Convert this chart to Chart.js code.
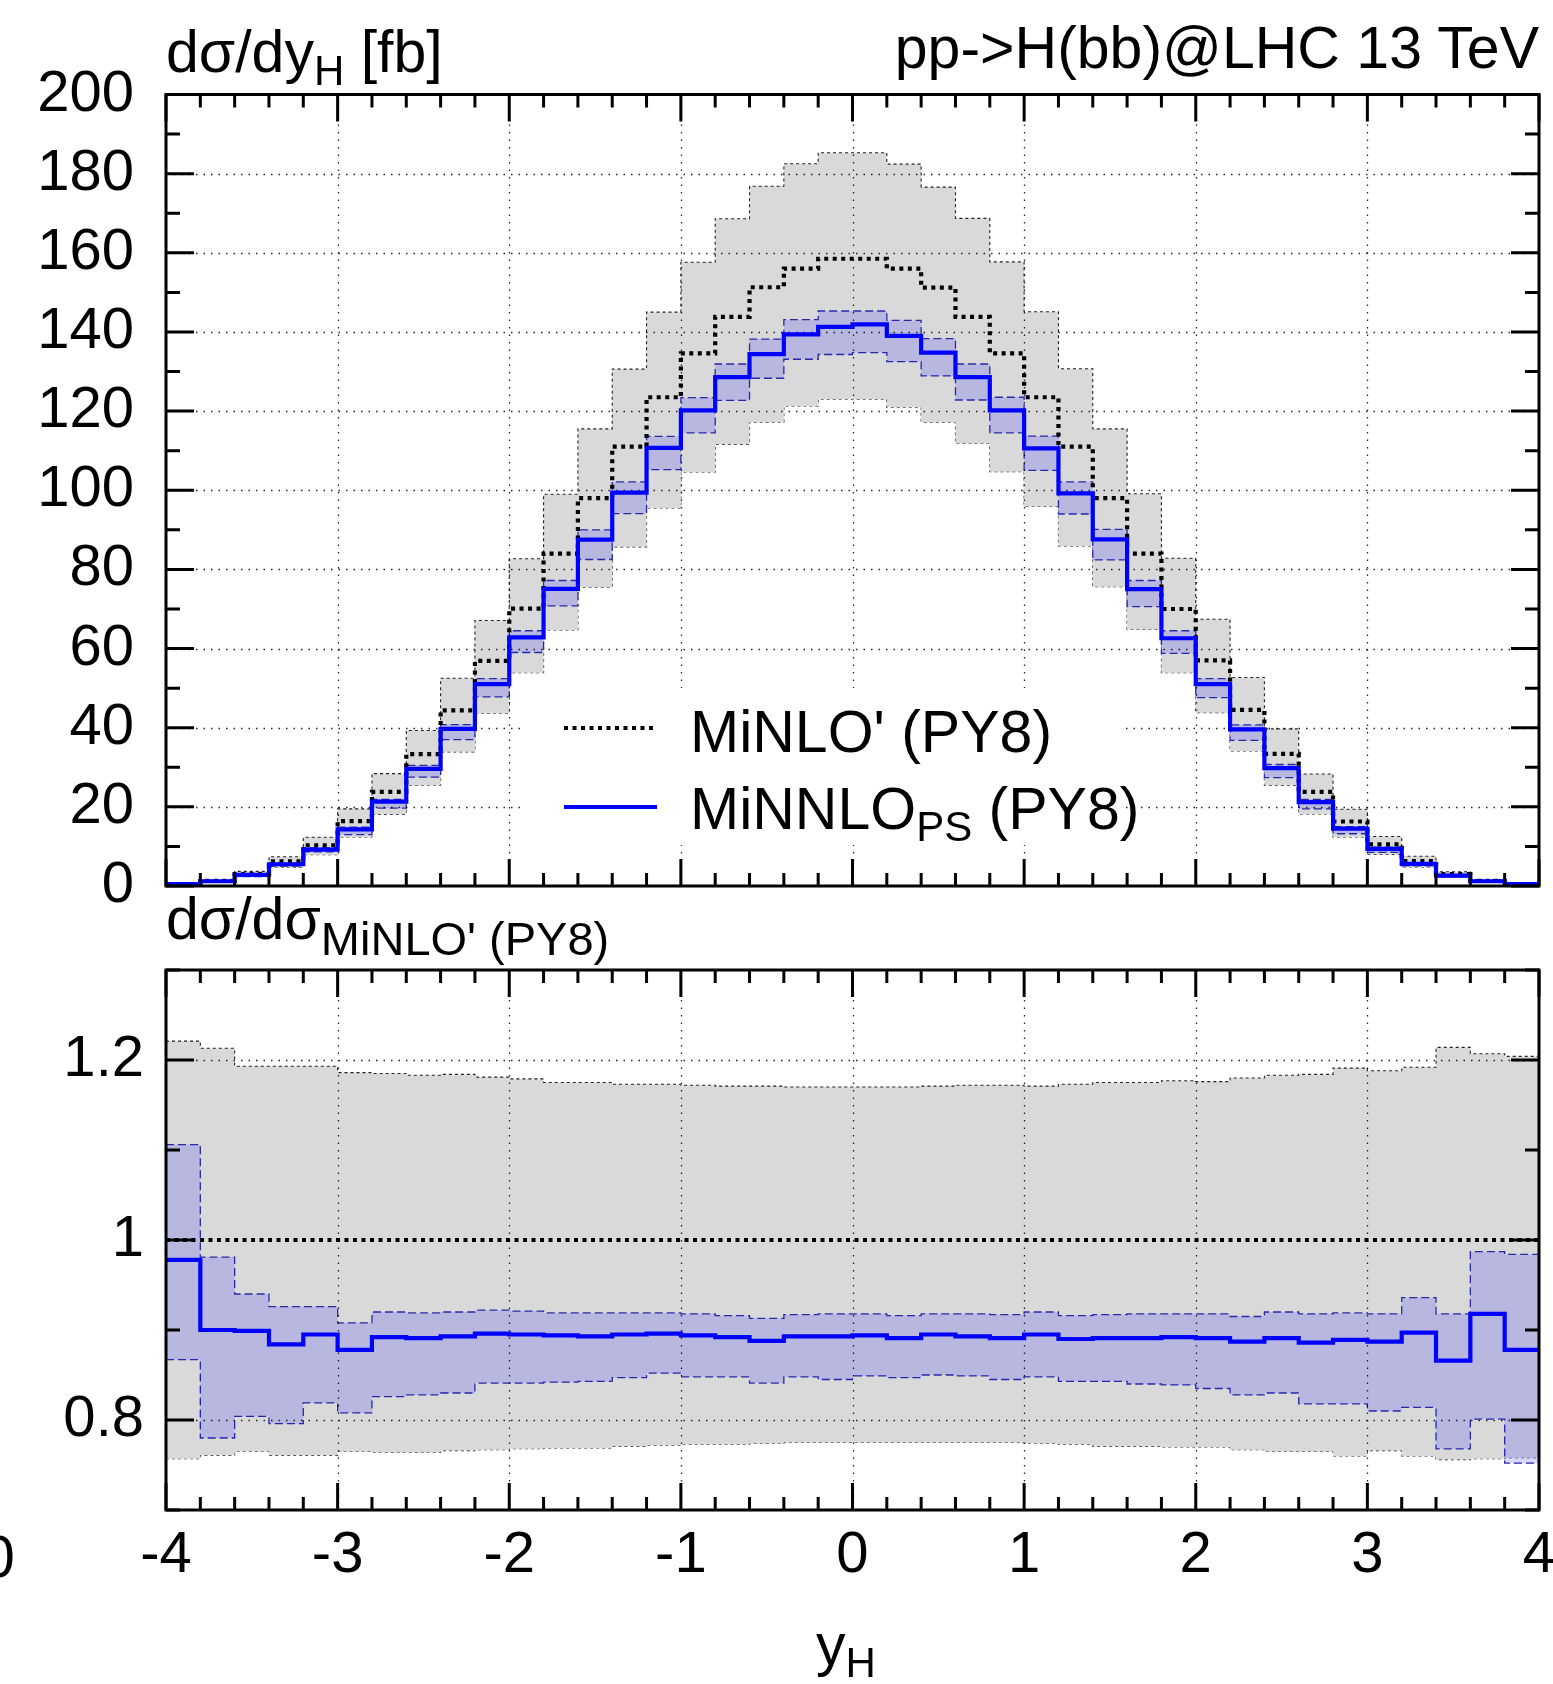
<!DOCTYPE html>
<html>
<head>
<meta charset="utf-8">
<title>pp->H(bb)@LHC 13 TeV</title>
<script src="https://cdn.jsdelivr.net/npm/chart.js@4.4.1/dist/chart.umd.min.js"></script>
<style>
  html, body { margin: 0; padding: 0; background: #fff; }
  #wrap { position: relative; width: 1553px; height: 1684px; overflow: hidden;
          font-family: "Liberation Sans", Arial, Helvetica, sans-serif; color: #000; }
  canvas { position: absolute; left: 0; }
  .lbl { position: absolute; white-space: nowrap; font-size: 59px; line-height: 58px; }
  .lbl sub { font-size: 42px; vertical-align: baseline; position: relative; }
</style>
</head>
<body>
<div id="wrap">
  <canvas id="topChart" width="1553" height="930" style="top:0"></canvas>
  <canvas id="ratioChart" width="1553" height="754" style="top:930px"></canvas>

  <div class="lbl" style="left:166px; top:23px">dσ/dy<sub style="top:13px">H</sub> [fb]</div>
  <div class="lbl" style="right:14px; top:19px">pp-&gt;H(bb)@LHC 13 TeV</div>
  <div class="lbl" style="left:690px; top:703px">MiNLO' (PY8)</div>
  <div class="lbl" style="left:690px; top:780px">MiNNLO<sub style="top:12px">PS</sub> (PY8)</div>
  <div class="lbl" style="left:166px; top:890px">dσ/dσ<sub style="top:16px; font-size:47px">MiNLO' (PY8)</sub></div>
  <div class="lbl" style="left:816px; top:1616px">y<sub style="top:12px">H</sub></div>
  <div class="lbl" style="left:-18px; top:1528px">0</div>
</div>

<script>
/* bin edges in y_H (40 bins of 0.2) */
const binEdges = [-4, -3.8, -3.6, -3.4, -3.2, -3, -2.8, -2.6, -2.4, -2.2, -2, -1.8, -1.6, -1.4, -1.2, -1,
  -0.8, -0.6, -0.4, -0.2, 0, 0.2, 0.4, 0.6, 0.8, 1, 1.2, 1.4, 1.6, 1.8, 2, 2.2, 2.4, 2.6, 2.8, 3,
  3.2, 3.4, 3.6, 3.8, 4];

/* dsigma/dy_H [fb] */
const minlo = [0.5, 1.3, 3.0, 6.2, 10.3, 16.4, 23.8, 33.3, 44.4, 56.9, 70.1, 84, 98, 111, 123.5, 134.6,
  143.8, 151.3, 156, 158.5, 158.5, 156, 151.2, 143.8, 134.6, 123.5, 111, 98, 84, 70, 57, 44.5, 33.4,
  23.8, 16.3, 10.5, 6.3, 3.0, 1.3, 0.5];
const minloUp = [0.6, 1.5, 3.7, 7.4, 12.3, 19.5, 28.4, 39.3, 52.5, 67.1, 82.7, 99, 115.5, 130.6, 145,
  157.6, 168.6, 176.8, 182.5, 185.3, 185.3, 182.4, 176.6, 168.7, 157.7, 145.1, 130.7, 115.5, 99.1, 82.8,
  67.4, 52.7, 39.7, 28.3, 19.4, 12.5, 7.5, 3.6, 1.6, 0.6];
const minloDn = [0.38, 1.0, 2.4, 4.7, 7.9, 12.4, 18.1, 25.4, 33.9, 43.6, 53.9, 64.7, 75.5, 85.7, 95.5,
  104.6, 111.6, 117.2, 121.3, 123, 123, 121, 117.2, 111.8, 104.7, 95.9, 85.9, 75.6, 64.8, 53.9, 43.8,
  34.1, 25.5, 18.2, 12.4, 8.0, 4.8, 2.3, 1.0, 0.38];
const minnlo = [0.5, 1.2, 2.8, 5.5, 9.2, 14.3, 21.3, 29.6, 39.7, 51.0, 62.8, 75.1, 87.5, 99.4, 110.7,
  120.2, 128.6, 134.4, 139.4, 141.3, 141.9, 139.0, 134.8, 128.6, 120.2, 110.6, 99.2, 87.6, 75.0, 62.6,
  51.0, 39.6, 29.8, 21.2, 14.5, 9.4, 5.6, 2.6, 1.2, 0.45];
const minnloUp = [0.55, 1.3, 2.9, 5.8, 9.7, 14.9, 21.9, 30.5, 40.8, 52.4, 64.5, 77.2, 90, 102.1, 113.6,
  123.4, 131.9, 138.2, 143.1, 145.3, 145.3, 142.9, 138.3, 131.9, 123.5, 113.7, 102.1, 90.1, 77.2, 64.5,
  52.4, 40.7, 30.7, 21.9, 15.0, 9.8, 5.8, 2.8, 1.3, 0.5];
const minnloDn = [0.43, 1.0, 2.4, 5.0, 8.6, 13.0, 19.7, 27.5, 37.0, 47.8, 59.0, 70.8, 82.5, 94.1, 105.2,
  114.5, 122.7, 128.3, 133.1, 134.3, 134.8, 132.5, 128.9, 122.8, 114.5, 105, 94, 82.4, 70.6, 58.8, 47.6,
  36.8, 27.4, 19.5, 13.2, 8.5, 5.1, 2.3, 1.0, 0.34];

/* ratio to MiNLO' (PY8) */
const ratioMinlo = [1, 1, 1, 1, 1, 1, 1, 1, 1, 1, 1, 1, 1, 1, 1, 1, 1, 1, 1, 1,
  1, 1, 1, 1, 1, 1, 1, 1, 1, 1, 1, 1, 1, 1, 1, 1, 1, 1, 1, 1];
const ratioMinloUp = [1.221, 1.213, 1.193, 1.193, 1.193, 1.186, 1.185, 1.183, 1.184, 1.181, 1.179, 1.175,
  1.175, 1.173, 1.173, 1.172, 1.171, 1.171, 1.170, 1.170, 1.170, 1.170, 1.171, 1.172, 1.172, 1.171, 1.173,
  1.175, 1.175, 1.177, 1.176, 1.180, 1.183, 1.184, 1.191, 1.188, 1.192, 1.214, 1.207, 1.204];
const ratioMinloDn = [0.757, 0.761, 0.765, 0.761, 0.761, 0.765, 0.764, 0.764, 0.766, 0.767, 0.768, 0.769,
  0.769, 0.771, 0.772, 0.773, 0.773, 0.774, 0.775, 0.775, 0.775, 0.775, 0.775, 0.775, 0.775, 0.774, 0.773,
  0.771, 0.771, 0.770, 0.770, 0.767, 0.765, 0.765, 0.760, 0.766, 0.760, 0.756, 0.757, 0.758];
const ratioMinnlo = [0.978, 0.900, 0.899, 0.884, 0.895, 0.878, 0.892, 0.891, 0.893, 0.896, 0.895, 0.894,
  0.893, 0.895, 0.896, 0.894, 0.892, 0.888, 0.893, 0.893, 0.894, 0.891, 0.895, 0.893, 0.891, 0.895, 0.890,
  0.891, 0.891, 0.892, 0.891, 0.887, 0.891, 0.886, 0.889, 0.887, 0.897, 0.866, 0.918, 0.878];
const ratioMinnloUp = [1.106, 0.981, 0.940, 0.926, 0.926, 0.908, 0.920, 0.919, 0.920, 0.922, 0.921, 0.919,
  0.919, 0.919, 0.919, 0.918, 0.916, 0.913, 0.917, 0.918, 0.918, 0.916, 0.918, 0.918, 0.917, 0.920, 0.916,
  0.917, 0.918, 0.918, 0.918, 0.915, 0.920, 0.918, 0.919, 0.918, 0.936, 0.918, 0.987, 0.984];
const ratioMinnloDn = [0.867, 0.780, 0.804, 0.796, 0.819, 0.808, 0.826, 0.828, 0.830, 0.841, 0.841, 0.842,
  0.843, 0.847, 0.852, 0.848, 0.848, 0.841, 0.848, 0.845, 0.849, 0.847, 0.850, 0.849, 0.845, 0.848, 0.843,
  0.843, 0.840, 0.839, 0.835, 0.828, 0.830, 0.818, 0.818, 0.810, 0.814, 0.768, 0.801, 0.752];

const FONT = "'Liberation Sans', Arial, Helvetica, sans-serif";
const GREY_FILL = '#d9d9d9';
const BLUE_FILL = 'rgba(0,0,255,0.155)';
const BLUE = '#0000ff';
const LINE_W = 4.2;
const DOTS = [4, 4.5];

// histogram points: bin i is drawn from edge i to edge i+1 (used with stepped 'before')
function steps(vals) {
  return binEdges.map((x, i) => ({ x, y: vals[Math.min(i, vals.length - 1)] }));
}

function ticksBetween(min, max, step) {
  const n = Math.round((max - min) / step);
  const out = [];
  for (let i = 0; i <= n; i++) out.push(+(min + i * step).toFixed(6));
  return out;
}
function isMultiple(v, m) {
  const q = v / m;
  return Math.abs(q - Math.round(q)) < 1e-6;
}

/* grid over the bands, inward ticks and a heavy frame, gnuplot style */
const framePlugin = {
  id: 'frame',
  beforeDatasetDraw(chart, args, opts) {
    if (args.index !== opts.gridBefore) return;
    const { ctx, chartArea: a, scales } = chart;
    ctx.save();
    ctx.beginPath();
    ctx.rect(a.left, a.top, a.width, a.height);
    if (opts.hole) {
      const h = opts.hole;
      ctx.rect(h[0], h[1], h[2] - h[0], h[3] - h[1]);
    }
    ctx.clip('evenodd');
    ctx.strokeStyle = 'rgba(0,0,0,0.85)';
    ctx.lineWidth = 1.3;
    ctx.setLineDash([1.5, 6]);
    ctx.beginPath();
    for (const gx of opts.gridX) {
      const px = Math.round(scales.x.getPixelForValue(gx)) + 0.5;
      ctx.moveTo(px, a.top); ctx.lineTo(px, a.bottom);
    }
    for (const gy of opts.gridY) {
      const py = Math.round(scales.y.getPixelForValue(gy)) + 0.5;
      ctx.moveTo(a.left, py); ctx.lineTo(a.right, py);
    }
    ctx.stroke();
    ctx.restore();
  },
  afterDraw(chart, args, opts) {
    const { ctx, chartArea: a, scales } = chart;
    ctx.save();
    ctx.strokeStyle = '#000';
    ctx.lineWidth = 3;
    ctx.lineCap = 'butt';
    ctx.beginPath();
    const xs = scales.x, ys = scales.y;
    for (const v of ticksBetween(xs.min, xs.max, opts.xMinor)) {
      const len = isMultiple(v, opts.xMajor) ? 27 : 13;
      const px = xs.getPixelForValue(v);
      ctx.moveTo(px, a.bottom); ctx.lineTo(px, a.bottom - len);
      ctx.moveTo(px, a.top); ctx.lineTo(px, a.top + len);
    }
    for (const v of ticksBetween(ys.min, ys.max, opts.yMinor)) {
      const len = isMultiple(v, opts.yMajor) ? 28 : 14;
      const py = ys.getPixelForValue(v);
      ctx.moveTo(a.left, py); ctx.lineTo(a.left + len, py);
      ctx.moveTo(a.right, py); ctx.lineTo(a.right - len, py);
    }
    ctx.stroke();
    ctx.strokeRect(a.left, a.top, a.width, a.height);

    if (opts.legend) {
      for (const item of opts.legend) {
        ctx.beginPath();
        ctx.strokeStyle = item.color;
        ctx.lineWidth = LINE_W;
        ctx.setLineDash(item.dash || []);
        ctx.moveTo(item.x0, item.y); ctx.lineTo(item.x1, item.y);
        ctx.stroke();
      }
    }
    ctx.restore();
  }
};

function histDatasets(center, ref, up, dn, refUp, refDn) {
  const common = { stepped: 'before', pointRadius: 0, tension: 0 };
  return [
    { ...common, label: 'MiNNLO_PS (PY8)', data: steps(center), borderColor: BLUE, borderWidth: LINE_W, fill: false, order: 1 },
    { ...common, label: "MiNLO' (PY8)", data: steps(ref), borderColor: '#000', borderWidth: LINE_W, borderDash: DOTS, fill: false, order: 2 },
    { ...common, data: steps(up), borderColor: '#2a2aa8', borderWidth: 1.3, borderDash: [8, 4],
      backgroundColor: BLUE_FILL, fill: '+1', order: 3 },
    { ...common, data: steps(dn), borderColor: '#2a2aa8', borderWidth: 1.3, borderDash: [8, 4], fill: false, order: 4 },
    { ...common, data: steps(refUp), borderColor: '#222', borderWidth: 1.1, borderDash: [3, 3],
      backgroundColor: GREY_FILL, fill: '+1', order: 5 },
    { ...common, data: steps(refDn), borderColor: '#222', borderWidth: 1.1, borderDash: [3, 3], fill: false, order: 6 },
  ];
}

const tickFont = { family: FONT, size: 58 };

new Chart(document.getElementById('topChart'), {
  type: 'line',
  data: { datasets: histDatasets(minnlo, minlo, minnloUp, minnloDn, minloUp, minloDn) },
  options: {
    responsive: false,
    animation: false,
    devicePixelRatio: 1,
    layout: { padding: { left: 0, right: 14, top: 94.5, bottom: 44 } },
    plugins: {
      legend: { display: false },
      tooltip: { enabled: false },
      frame: {
        gridBefore: 1,
        gridX: [-3, -2, -1, 0, 1, 2, 3],
        gridY: [20, 40, 60, 80, 100, 120, 140, 160, 180],
        hole: [520, 688, 1120, 845],
        xMajor: 1, xMinor: 0.2, yMajor: 20, yMinor: 10,
        legend: [
          { x0: 564, x1: 657, y: 728, color: '#000', dash: DOTS },
          { x0: 564, x1: 657, y: 807, color: BLUE },
        ],
      },
    },
    scales: {
      x: { type: 'linear', min: -4, max: 4, display: false },
      y: {
        type: 'linear', min: 0, max: 200,
        grid: { display: false, drawTicks: false },
        border: { display: false },
        ticks: { stepSize: 20, color: '#000', font: tickFont, padding: 32, autoSkip: false },
        afterFit: s => { s.width = 166; s.paddingTop = 0; s.paddingBottom = 0; },
      },
    },
  },
  plugins: [framePlugin],
});

new Chart(document.getElementById('ratioChart'), {
  type: 'line',
  data: { datasets: histDatasets(ratioMinnlo, ratioMinlo, ratioMinnloUp, ratioMinnloDn, ratioMinloUp, ratioMinloDn) },
  options: {
    responsive: false,
    animation: false,
    devicePixelRatio: 1,
    layout: { padding: { left: 0, right: 14, top: 40, bottom: 0 } },
    plugins: {
      legend: { display: false },
      tooltip: { enabled: false },
      frame: {
        gridBefore: 1,
        gridX: [-3, -2, -1, 0, 1, 2, 3],
        gridY: [0.8, 1.2],
        xMajor: 1, xMinor: 0.2, yMajor: 0.2, yMinor: 0.1,
      },
    },
    scales: {
      x: {
        type: 'linear', min: -4, max: 4,
        grid: { display: false, drawTicks: false },
        border: { display: false },
        ticks: { stepSize: 1, color: '#000', font: tickFont, padding: 11, maxRotation: 0, autoSkip: false },
        afterFit: s => { s.height = 174; s.paddingLeft = 0; s.paddingRight = 0; },
      },
      y: {
        type: 'linear', min: 0.7, max: 1.3,
        grid: { display: false, drawTicks: false },
        border: { display: false },
        ticks: { color: '#000', font: tickFont, padding: 22, autoSkip: false,
                 callback: v => String(+v.toFixed(1)) },
        afterBuildTicks: s => { s.ticks = [0.8, 1.0, 1.2].map(value => ({ value })); },
        afterFit: s => { s.width = 166; s.paddingTop = 0; s.paddingBottom = 0; },
      },
    },
  },
  plugins: [framePlugin],
});
</script>
</body>
</html>
